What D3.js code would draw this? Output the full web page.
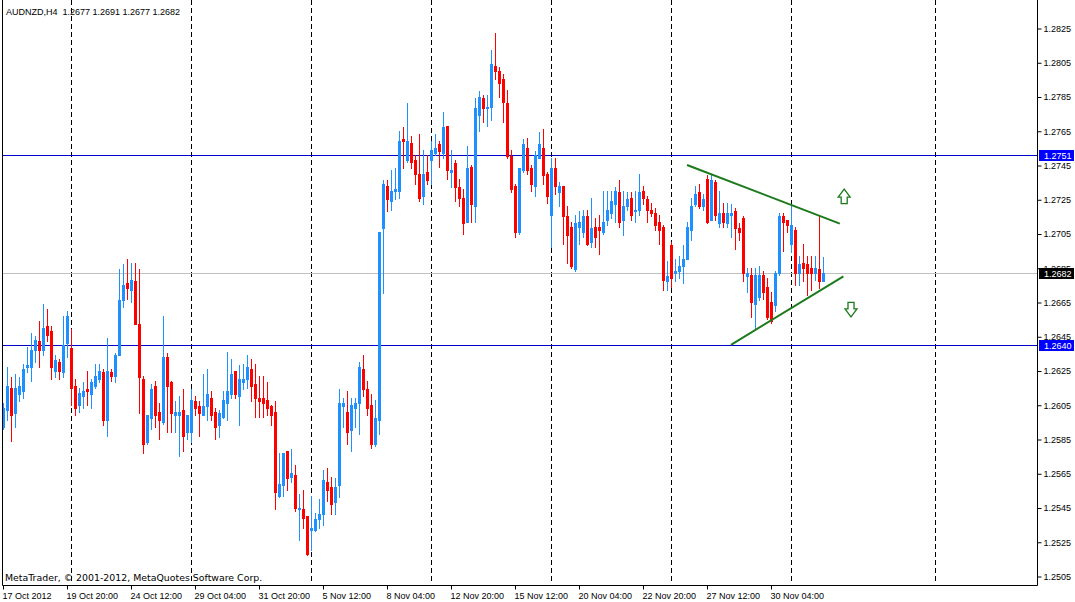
<!DOCTYPE html>
<html>
<head>
<meta charset="utf-8">
<script src="https://cdn.jsdelivr.net/npm/d3@7"></script>
<style>
  html, body { margin: 0; padding: 0; background: #fff; }
  svg { display: block; }
  text { font-family: "Liberation Sans", Arial, sans-serif; font-size: 9px; fill: #000; }
</style>
</head>
<body>
<svg id="chart" width="1075" height="602"></svg>
<script>
// AUDNZD H4 candles, 17 Oct 2012 04:00 onwards (Mon-Fri, 6 bars a day)
const symbol = 'AUDNZD,H4';
const firstBar = Date.UTC(2012, 9, 17, 4);

const opens = [
  1.2592,1.2602,1.2615,1.2600,1.2611,1.2613,1.2627,1.2627,1.2637,1.2642,1.2637,1.2651,1.2648,1.2625,1.2630,1.2624,1.2641,1.2638,1.2616,1.2605,
  1.2610,1.2614,1.2611,1.2616,1.2620,1.2624,1.2596,1.2624,1.2622,1.2634,1.2666,1.2676,1.2672,1.2677,1.2652,1.2620,1.2583,1.2597,1.2616,1.2601,
  1.2595,1.2633,1.2618,1.2599,1.2599,1.2602,1.2589,1.2589,1.2607,1.2604,1.2599,1.2604,1.2609,1.2601,1.2593,1.2598,1.2606,1.2611,1.2625,1.2610,
  1.2618,1.2620,1.2626,1.2617,1.2609,1.2609,1.2608,1.2604,1.2601,1.2552,1.2558,1.2578,1.2563,1.2564,1.2544,1.2544,1.2540,1.2532,1.2532,1.2538,
  1.2541,1.2560,1.2557,1.2548,1.2558,1.2604,1.2601,1.2590,1.2603,1.2606,1.2626,1.2614,1.2605,1.2582,1.2596,1.2708,1.2733,1.2724,1.2730,1.2730,
  1.2760,1.2748,1.2758,1.2748,1.2740,1.2727,1.2741,1.2748,1.2752,1.2757,1.2752,1.2768,1.2741,1.2746,1.2732,1.2726,1.2712,1.2744,1.2721,1.2774,
  1.2784,1.2778,1.2779,1.2803,1.2800,1.2795,1.2781,1.2750,1.2733,1.2706,1.2742,1.2755,1.2743,1.2733,1.2749,1.2755,1.2740,1.2716,1.2743,1.2729,
  1.2733,1.2715,1.2709,1.2684,1.2709,1.2706,1.2715,1.2700,1.2709,1.2709,1.2706,1.2713,1.2717,1.2722,1.2729,1.2713,1.2721,1.2726,1.2718,1.2719,
  1.2730,1.2725,1.2719,1.2717,1.2712,1.2709,1.2677,1.2698,1.2682,1.2683,1.2686,1.2690,1.2707,1.2722,1.2729,1.2721,1.2737,1.2713,1.2735,1.2711,
  1.2717,1.2711,1.2716,1.2718,1.2708,1.2714,1.2680,1.2681,1.2664,1.2668,1.2681,1.2674,1.2665,1.2663,1.2682,1.2715,1.2713,1.2699,1.2707,1.2682,
  1.2688,1.2687,1.2685,1.2682,1.2684,1.2677
];
const highs = [
  1.2606,1.2627,1.2621,1.2623,1.2621,1.2629,1.2639,1.2647,1.2645,1.2654,1.2664,1.2661,1.2651,1.2634,1.2632,1.2657,1.2660,1.2649,1.2620,1.2615,
  1.2618,1.2625,1.2620,1.2629,1.2629,1.2626,1.2644,1.2626,1.2635,1.2684,1.2687,1.2690,1.2688,1.2688,1.2684,1.2622,1.2599,1.2617,1.2619,1.2606,
  1.2657,1.2635,1.2619,1.2607,1.2610,1.2614,1.2599,1.2614,1.2610,1.2607,1.2623,1.2626,1.2613,1.2603,1.2602,1.2613,1.2636,1.2632,1.2625,1.2628,
  1.2629,1.2634,1.2632,1.2629,1.2622,1.2622,1.2618,1.2605,1.2607,1.2577,1.2577,1.2578,1.2579,1.2570,1.2553,1.2555,1.2540,1.2552,1.2542,1.2550,
  1.2567,1.2568,1.2563,1.2562,1.2614,1.2609,1.2613,1.2609,1.2609,1.2630,1.2634,1.2619,1.2611,1.2608,1.2706,1.2736,1.2736,1.2742,1.2743,1.2765,
  1.2767,1.2781,1.2762,1.2751,1.2763,1.2754,1.2751,1.2759,1.2763,1.2759,1.2776,1.2768,1.2754,1.2748,1.2737,1.2731,1.2756,1.2745,1.2784,1.2788,
  1.2786,1.2786,1.2812,1.2822,1.2802,1.2798,1.2789,1.2754,1.2734,1.2743,1.2760,1.2761,1.2745,1.2753,1.2764,1.2766,1.2741,1.2749,1.2749,1.2735,
  1.2733,1.2721,1.2712,1.2716,1.2718,1.2719,1.2719,1.2726,1.2714,1.2716,1.2730,1.2730,1.2730,1.2732,1.2736,1.2730,1.2729,1.2729,1.2730,1.2740,
  1.2733,1.2727,1.2723,1.2720,1.2716,1.2710,1.2689,1.2700,1.2690,1.2692,1.2698,1.2712,1.2726,1.2733,1.2734,1.2728,1.2739,1.2740,1.2736,1.2730,
  1.2723,1.2723,1.2722,1.2720,1.2711,1.2715,1.2685,1.2685,1.2685,1.2686,1.2683,1.2679,1.2671,1.2683,1.2717,1.2717,1.2713,1.2722,1.2709,1.2692,
  1.2699,1.2692,1.2692,1.2692,1.2716,1.2691
];
const lows = [
  1.2591,1.2596,1.2584,1.2592,1.2607,1.2609,1.2624,1.2619,1.2630,1.2627,1.2634,1.2642,1.2620,1.2621,1.2620,1.2621,1.2633,1.2605,1.2599,1.2601,
  1.2603,1.2605,1.2603,1.2615,1.2618,1.2593,1.2587,1.2619,1.2618,1.2634,1.2662,1.2667,1.2665,1.2652,1.2600,1.2577,1.2582,1.2591,1.2592,1.2585,
  1.2594,1.2589,1.2589,1.2589,1.2575,1.2578,1.2585,1.2583,1.2599,1.2587,1.2599,1.2596,1.2596,1.2585,1.2586,1.2597,1.2596,1.2609,1.2609,1.2593,
  1.2614,1.2615,1.2607,1.2598,1.2598,1.2598,1.2599,1.2593,1.2544,1.2551,1.2552,1.2555,1.2560,1.2543,1.2526,1.2533,1.2517,1.2520,1.2531,1.2533,
  1.2535,1.2549,1.2541,1.2541,1.2551,1.2592,1.2582,1.2578,1.2592,1.2588,1.2610,1.2599,1.2580,1.2581,1.2588,1.2670,1.2718,1.2719,1.2725,1.2726,
  1.2743,1.2747,1.2743,1.2734,1.2724,1.2722,1.2734,1.2734,1.2751,1.2744,1.2749,1.2737,1.2732,1.2724,1.2721,1.2705,1.2712,1.2712,1.2712,1.2765,
  1.2770,1.2768,1.2771,1.2795,1.2785,1.2770,1.2749,1.2729,1.2703,1.2705,1.2741,1.2740,1.2730,1.2727,1.2749,1.2734,1.2723,1.2697,1.2728,1.2721,
  1.2699,1.2688,1.2685,1.2683,1.2699,1.2703,1.2698,1.2697,1.2697,1.2693,1.2705,1.2710,1.2714,1.2712,1.2709,1.2704,1.2719,1.2713,1.2712,1.2716,
  1.2722,1.2712,1.2715,1.2707,1.2699,1.2672,1.2672,1.2674,1.2677,1.2679,1.2676,1.2690,1.2701,1.2721,1.2720,1.2719,1.2711,1.2713,1.2713,1.2709,
  1.2709,1.2709,1.2703,1.2696,1.2701,1.2677,1.2671,1.2656,1.2649,1.2666,1.2667,1.2655,1.2653,1.2660,1.2681,1.2695,1.2706,1.2694,1.2675,1.2675,
  1.2677,1.2669,1.2672,1.2678,1.2673,1.2677
];
const closes = [
  1.2603,1.2616,1.2599,1.2615,1.2616,1.2626,1.2628,1.2637,1.2643,1.2637,1.2650,1.2646,1.2627,1.2631,1.2625,1.2640,1.2657,1.2615,1.2603,1.2612,
  1.2613,1.2613,1.2618,1.2622,1.2625,1.2596,1.2625,1.2622,1.2634,1.2666,1.2675,1.2673,1.2678,1.2652,1.2621,1.2582,1.2599,1.2614,1.2599,1.2596,
  1.2633,1.2616,1.2600,1.2601,1.2601,1.2587,1.2599,1.2608,1.2603,1.2600,1.2604,1.2611,1.2599,1.2592,1.2600,1.2608,1.2613,1.2623,1.2611,1.2620,
  1.2620,1.2627,1.2616,1.2609,1.2607,1.2606,1.2603,1.2599,1.2554,1.2559,1.2577,1.2562,1.2565,1.2545,1.2545,1.2539,1.2518,1.2533,1.2538,1.2541,
  1.2561,1.2555,1.2547,1.2557,1.2606,1.2606,1.2589,1.2605,1.2606,1.2627,1.2614,1.2603,1.2582,1.2597,1.2706,1.2734,1.2725,1.2730,1.2731,1.2759,
  1.2759,1.2759,1.2747,1.2740,1.2726,1.2740,1.2736,1.2754,1.2755,1.2753,1.2767,1.2742,1.2742,1.2732,1.2726,1.2711,1.2743,1.2722,1.2778,1.2785,
  1.2778,1.2779,1.2804,1.2800,1.2793,1.2782,1.2750,1.2731,1.2706,1.2743,1.2757,1.2742,1.2734,1.2751,1.2757,1.2739,1.2727,1.2743,1.2733,1.2733,
  1.2715,1.2704,1.2686,1.2711,1.2712,1.2715,1.2699,1.2708,1.2703,1.2707,1.2712,1.2719,1.2724,1.2730,1.2712,1.2721,1.2725,1.2716,1.2719,1.2729,
  1.2726,1.2719,1.2717,1.2710,1.2707,1.2678,1.2680,1.2679,1.2683,1.2686,1.2690,1.2709,1.2721,1.2728,1.2721,1.2725,1.2712,1.2736,1.2716,1.2717,
  1.2712,1.2717,1.2717,1.2708,1.2706,1.2682,1.2682,1.2665,1.2681,1.2681,1.2671,1.2656,1.2654,1.2682,1.2715,1.2712,1.2710,1.2710,1.2682,1.2687,
  1.2685,1.2682,1.2682,1.2685,1.2677,1.2682
];

// price scale labels
const priceTicks = [1.2505,1.2525,1.2545,1.2565,1.2585,1.2605,1.2625,1.2645,1.2665,1.2685,
                    1.2705,1.2725,1.2745,1.2765,1.2785,1.2805,1.2825];
// horizontal support / resistance lines
const levels = [1.2751, 1.2640];
// week separators (bar index); the last one falls in the empty area
const separators = [17, 47, 77, 107, 137, 167, 197, 233];
// triangle drawn on the chart, anchored on bar index / price
const upperTrend = [[171, 1.2745], [209.2, 1.27108]];
const lowerTrend = [[182, 1.2640], [210.1, 1.2680]];
const arrowsUp = [[210.3, 1.27265]];
const arrowsDown = [[212, 1.26607]];

const bars = opens.map((o, i) => ({
  i, time: new Date(firstBar), o, h: highs[i], l: lows[i], c: closes[i]
}));
// step through trading hours, skipping weekends
{
  let t = firstBar;
  bars.forEach(b => {
    b.time = new Date(t);
    t += 4 * 3600e3;
    let d = new Date(t).getUTCDay();
    while (d === 0 || d === 6) { t += 24 * 3600e3; d = new Date(t).getUTCDay(); }
  });
}

const W = 1075, H = 602;
const plot = { left: 2, right: 1037, top: 0, bottom: 585 };
const barStep = 4;
const slots = Math.floor((plot.right - 1) / barStep);

const svg = d3.select('#chart');

const x = d3.scaleBand().domain(d3.range(slots)).range([1, 1 + slots * barStep]);
const cx = i => x(0) + i * x.step() + x.bandwidth() / 2;
const y = d3.scaleLinear().domain([1.2505, 1.2825]).range([576, 28]);
const snap = v => Math.round(v) + 0.5;

const up = '#1e90ff', down = '#ff0000', lineBlue = '#0000c8', green = '#1b7a1b';

// week separators
svg.append('g').selectAll('line')
  .data(separators)
  .join('line')
  .attr('x1', d => snap(cx(d))).attr('x2', d => snap(cx(d)))
  .attr('y1', plot.top).attr('y2', plot.bottom - 1)
  .attr('stroke', '#000').attr('stroke-dasharray', '5,3');

// bid line
const last = bars[bars.length - 1];
svg.append('line')
  .attr('x1', plot.left).attr('x2', plot.right)
  .attr('y1', snap(y(last.c))).attr('y2', snap(y(last.c)))
  .attr('stroke', '#c0c0c0');

// levels
svg.append('g').selectAll('line')
  .data(levels)
  .join('line')
  .attr('x1', plot.left).attr('x2', plot.right)
  .attr('y1', d => snap(y(d))).attr('y2', d => snap(y(d)))
  .attr('stroke', lineBlue);

// candles
const candles = svg.append('g').selectAll('g')
  .data(bars)
  .join('g')
  .attr('fill', d => d.c >= d.o ? up : down)
  .attr('stroke', d => d.c >= d.o ? up : down);

candles.append('line')
  .attr('x1', d => snap(cx(d.i))).attr('x2', d => snap(cx(d.i)))
  .attr('y1', d => Math.round(y(d.h))).attr('y2', d => Math.round(y(d.l)) + 1);

candles.append('rect')
  .attr('stroke', 'none')
  .attr('x', d => Math.round(cx(d.i)) - 1)
  .attr('width', 3)
  .attr('y', d => Math.round(y(Math.max(d.o, d.c))))
  .attr('height', d => Math.max(1, Math.round(y(Math.min(d.o, d.c))) - Math.round(y(Math.max(d.o, d.c))) + 1));

// trend lines
const trendLine = d3.line().x(d => cx(d[0])).y(d => y(d[1]));
svg.append('g').selectAll('path')
  .data([upperTrend, lowerTrend])
  .join('path')
  .attr('d', trendLine)
  .attr('fill', 'none')
  .attr('stroke', green)
  .attr('stroke-width', 2);

// hollow arrows
const arrowUpPath = 'M0,-7.5L6,0.5L3,0.5L3,7L-3,7L-3,0.5L-6,0.5Z';
svg.append('g').selectAll('path.up')
  .data(arrowsUp)
  .join('path')
  .attr('class', 'up')
  .attr('transform', d => `translate(${cx(d[0])},${y(d[1])})`)
  .attr('d', arrowUpPath);
svg.append('g').selectAll('path.down')
  .data(arrowsDown)
  .join('path')
  .attr('class', 'down')
  .attr('transform', d => `translate(${cx(d[0])},${y(d[1])}) scale(1,-1)`)
  .attr('d', arrowUpPath);
svg.selectAll('path.up, path.down')
  .attr('fill', '#fff').attr('stroke', green).attr('stroke-width', 1.3);

// frame
svg.append('path')
  .attr('d', `M${plot.left + 0.5},0V${plot.bottom + 0.5}H${plot.right + 0.5}V0`)
  .attr('fill', 'none').attr('stroke', '#000');

// price axis
const yAxis = d3.axisRight(y)
  .tickValues(priceTicks)
  .tickFormat(d3.format('.4f'))
  .tickSize(4)
  .tickSizeOuter(0)
  .tickPadding(2);
const yg = svg.append('g')
  .attr('transform', `translate(${plot.right + 0.5},0.5)`)
  .call(yAxis);
yg.select('.domain').remove();
yg.selectAll('text').attr('font-family', null).attr('font-size', null).attr('fill', '#000');
yg.selectAll('line').attr('stroke', '#000');

// time axis
const fmtFirst = d3.utcFormat('%-d %b %Y');
const fmtTime = d3.utcFormat('%-d %b %H:%M');
const timeTicks = bars.filter(b => b.i % 16 === 0).map(b => b.i);
const xAxis = d3.axisBottom(x)
  .tickValues(timeTicks)
  .tickFormat(i => i === 0 ? fmtFirst(bars[i].time) : fmtTime(bars[i].time))
  .tickSize(4)
  .tickSizeOuter(0);
const xg = svg.append('g')
  .attr('transform', `translate(0.5,${plot.bottom + 0.5})`)
  .call(xAxis);
xg.select('.domain').remove();
xg.selectAll('line').attr('stroke', '#000');
xg.selectAll('text')
  .attr('font-family', null).attr('font-size', null).attr('fill', '#000')
  .attr('text-anchor', 'start')
  .attr('x', -1).attr('y', 13).attr('dy', null);

// price markers on the scale
const markers = [
  ...levels.map(v => ({ v, bg: '#0000ff' })),
  { v: last.c, bg: '#000' }
];
const mk = svg.append('g').selectAll('g')
  .data(markers)
  .join('g')
  .attr('transform', d => `translate(${plot.right + 2},${Math.round(y(d.v))})`);
mk.append('rect')
  .attr('x', 0).attr('y', -5).attr('width', 35).attr('height', 11)
  .attr('fill', d => d.bg);
mk.append('text')
  .attr('x', 5).attr('y', 4)
  .style('fill', '#fff')
  .text(d => d3.format('.4f')(d.v));

// header and copyright
svg.append('text')
  .attr('x', 6).attr('y', 15)
  .style('white-space', 'pre')
  .text(`${symbol}  ${[last.o, last.h, last.l, last.c].map(d3.format('.4f')).join(' ')}`);
svg.append('text')
  .attr('x', 5).attr('y', 581)
  .style('font-family', '"DejaVu Sans", sans-serif')
  .style('font-size', '9.4px')
  .text('MetaTrader, © 2001-2012, MetaQuotes Software Corp.');
</script>
</body>
</html>
